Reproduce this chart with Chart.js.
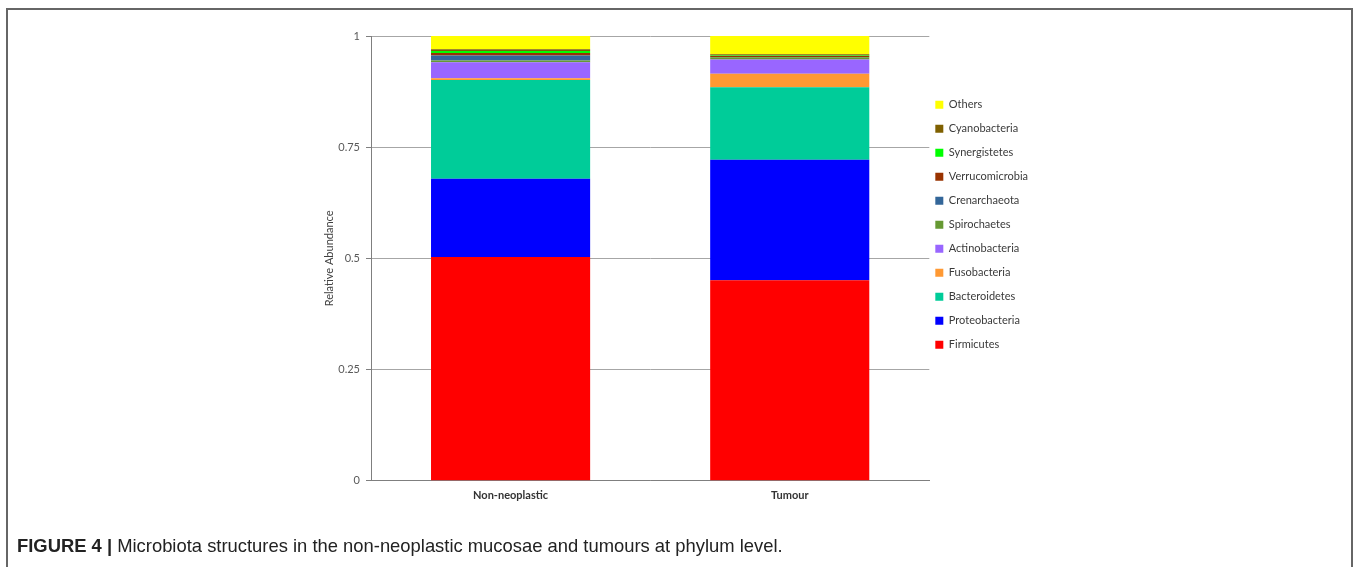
<!DOCTYPE html>
<html>
<head>
<meta charset="utf-8">
<script src="https://cdn.jsdelivr.net/npm/chart.js@4"></script>
<style>
  html, body { margin: 0; padding: 0; background: #fff; width: 1358px; height: 567px; overflow: hidden; }
  #frame { position: absolute; left: 6px; top: 8px; width: 1347px; height: 600px; border: 2px solid #666; border-bottom: none; box-sizing: border-box; }
  #wrap { position: absolute; left: 0; top: 0; width: 1358px; height: 515px; }
  #caption { position: absolute; left: 17px; top: 535px; font-family: "Liberation Sans", Arial, sans-serif; font-size: 18.4px; color: #222; white-space: nowrap; }
  #caption b { font-weight: bold; }
</style>
</head>
<body>
<div id="wrap"><canvas id="c" width="1358" height="515"></canvas></div>
<div id="frame"></div>
<div id="caption"><b>FIGURE 4 |</b> Microbiota structures in the non-neoplastic mucosae and tumours at phylum level.</div>
<script>
// ---- data ----
const categories = ['Non-neoplastic', 'Tumour'];
const phyla = ['Firmicutes', 'Proteobacteria', 'Bacteroidetes', 'Fusobacteria', 'Actinobacteria',
               'Spirochaetes', 'Crenarchaeota', 'Verrucomicrobia', 'Synergistetes', 'Cyanobacteria', 'Others'];
const nonNeoplastic = [0.503, 0.176, 0.222, 0.004, 0.036, 0.004, 0.011, 0.006, 0.004, 0.004, 0.031];
const tumour        = [0.451, 0.271, 0.163, 0.030, 0.032, 0.005, 0.001, 0.002, 0.001, 0.003, 0.043];
const yTickValues = [0, 0.25, 0.5, 0.75, 1];
const yTickLabels = ['0', '0.25', '0.5', '0.75', '1'];
const colors = ['#FF0000', '#0000FF', '#00CC99', '#FF9933', '#9966FF',
                '#669933', '#336699', '#993300', '#00FF00', '#7F6000', '#FFFF00'];

const datasets = phyla.map((name, i) => ({
  label: name,
  data: [nonNeoplastic[i], tumour[i]],
  backgroundColor: colors[i],
  borderWidth: 0,
  categoryPercentage: 1.0,
  barPercentage: 0.57
}));

const FONT = 'Lato, "Open Sans", sans-serif';

// nudge the legend a little closer to the plot area
const legendShift = {
  id: 'legendShift',
  afterLayout(chart) {
    if (chart.legend) { chart.legend.left -= 7; chart.legend.right -= 7; }
  }
};

new Chart(document.getElementById('c'), {
  type: 'bar',
  data: { labels: categories, datasets },
  options: {
    responsive: false,
    animation: false,
    layout: { padding: { left: 319, right: 313, top: 36, bottom: 5 } },
    plugins: {
      tooltip: { enabled: false },
      legend: {
        position: 'right',
        align: 'start',
        reverse: true,
        title: { display: true, text: ' ', padding: { top: 18, bottom: 19 }, font: { size: 11, family: FONT } },
        labels: {
          boxWidth: 8, boxHeight: 8, padding: 13,
          color: '#3a3a3a',
          font: { size: 11, family: FONT }
        }
      }
    },
    scales: {
      x: {
        stacked: true,
        grid: { display: false, drawTicks: false },
        border: { display: true, color: '#7f7f7f', width: 1 },
        ticks: { padding: 8, color: '#333', font: { size: 11, family: FONT, weight: 'bold' } }
      },
      y: {
        stacked: true,
        min: 0, max: 1,
        afterBuildTicks: (scale) => { scale.ticks = yTickValues.map(v => ({ value: v })); },
        afterFit: (scale) => { scale.width = 52; },
        grid: { color: '#a6a6a6', tickColor: '#7f7f7f', tickLength: 5, lineWidth: 1 },
        border: { display: true, color: '#7f7f7f', width: 1 },
        ticks: {
          padding: 6, color: '#595959', font: { size: 11, family: FONT },
          callback: (value) => yTickLabels[yTickValues.indexOf(value)]
        },
        title: { display: true, text: 'Relative Abundance', color: '#404040', font: { size: 11, family: FONT } }
      }
    }
  },
  plugins: [legendShift]
});
</script>
</body>
</html>
